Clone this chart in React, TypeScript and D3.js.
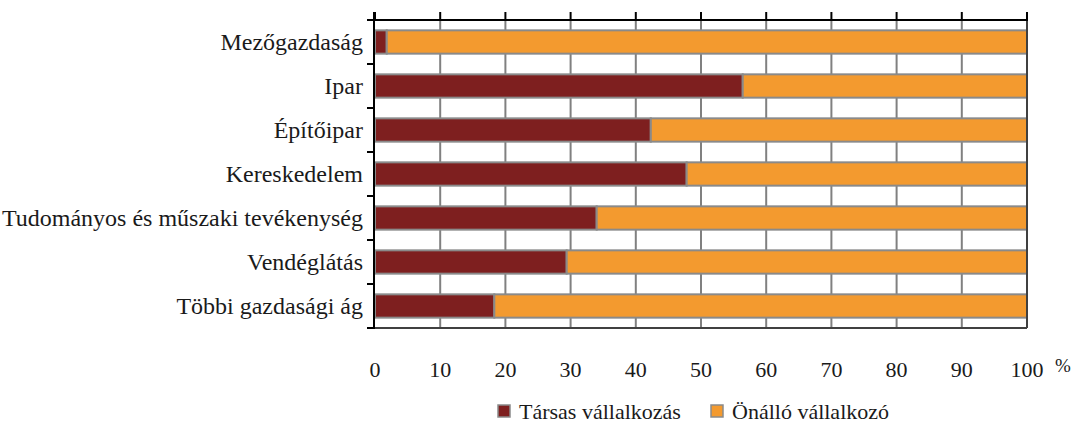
import React from 'react';
import { scaleBand, scaleLinear, range } from 'd3';

const width = 1072;
const height = 423;
const margins = { top: 20, bottom: 95, left: 375, right: 45 };

const categories = ['Mezőgazdaság', 'Ipar', 'Építőipar', 'Kereskedelem', 'Tudományos és műszaki tevékenység', 'Vendéglátás', 'Többi gazdasági ág'];
const tarsas = [1.8, 56.4, 42.3, 47.8, 34.0, 29.4, 18.3];
const onallo = tarsas.map((v) => 100 - v);
const xTicks = [0, 10, 20, 30, 40, 50, 60, 70, 80, 90, 100];
const seriesNames = ['Társas vállalkozás', 'Önálló vállalkozó'];
const colors = ['#7e1f1f', '#f39a2f'];

// set on every text element, inheriting from the svg did not pick it up
const txt = { fontFamily: '"Liberation Serif"' };

export default function App() {
  const xScale = scaleLinear().domain([0, 100]).range([margins.left, width - margins.right]);
  const yScale = scaleBand()
    .domain(categories)
    .range([margins.top, height - margins.bottom])
    .paddingInner(0.47)
    .paddingOuter(0.235);

  const top = margins.top;
  const bottom = height - margins.bottom;
  const left = xScale(0);
  const right = xScale(100);
  const step = yScale.step();
  const bounds = range(categories.length + 1).map((i) => top + i * step);

  return (
    <svg width={width} height={height} style={{ position: 'absolute', left: 0, top: 0 }}>
      <rect width={width} height={height} fill="white" />
      {/* gridlines */}
      {xTicks.slice(1, -1).map((t) => (
        <line key={t} x1={xScale(t)} x2={xScale(t)} y1={top} y2={bottom} stroke="#808080" strokeWidth={2} />
      ))}
      {/* bars */}
      {categories.map((c, i) => (
        <g key={c}>
          <rect x={xScale(0)} y={yScale(c)} width={xScale(tarsas[i]) - xScale(0)} height={yScale.bandwidth()}
            fill={colors[0]} stroke="#8a8a8a" strokeWidth={2} />
          <rect x={xScale(tarsas[i])} y={yScale(c)} width={xScale(tarsas[i] + onallo[i]) - xScale(tarsas[i])} height={yScale.bandwidth()}
            fill={colors[1]} stroke="#8a8a8a" strokeWidth={2} />
        </g>
      ))}
      {/* plot borders */}
      <line x1={left - 8} x2={right} y1={bottom} y2={bottom} stroke="#404040" strokeWidth={2} />
      <line x1={right} x2={right} y1={top} y2={bottom} stroke="#404040" strokeWidth={2} />
      {/* top axis */}
      <line x1={left - 8} x2={right + 1} y1={top} y2={top} stroke="black" strokeWidth={2} />
      {xTicks.map((t) => (
        <line key={t} x1={xScale(t)} x2={xScale(t)} y1={top - 8} y2={top} stroke="black" strokeWidth={2} />
      ))}
      {/* left axis */}
      <line x1={left - 1} x2={left - 1} y1={top - 8} y2={bottom} stroke="black" strokeWidth={2} />
      {bounds.map((b, i) => (
        <line key={i} x1={left - 8} x2={left} y1={b} y2={b} stroke="black" strokeWidth={2} />
      ))}
      {/* category labels */}
      {categories.map((c) => (
        <text key={c} x={left - 12} y={(yScale(c) as number) + yScale.bandwidth() / 2} dy="0.33em"
          textAnchor="end" fontSize={24} fill="#1a1a1a" style={txt}>{c}</text>
      ))}
      {/* tick labels */}
      {xTicks.map((t) => (
        <text key={t} x={xScale(t)} y={377} textAnchor="middle" fontSize={22} fill="#1a1a1a" style={txt}>{t}</text>
      ))}
      <text x={right + 28} y={372} fontSize={19} fill="#1a1a1a" style={txt}>%</text>
      {/* legend */}
      {seriesNames.map((s, i) => (
        <g key={s} transform={`translate(${498 + i * 213},405)`}>
          <rect x={0} y={0} width={12} height={12} fill={colors[i]} stroke="#8a8a8a" strokeWidth={1.5} />
          <text x={21} y={14} fontSize={22} fill="#1a1a1a" style={txt}>{s}</text>
        </g>
      ))}
    </svg>
  );
}
